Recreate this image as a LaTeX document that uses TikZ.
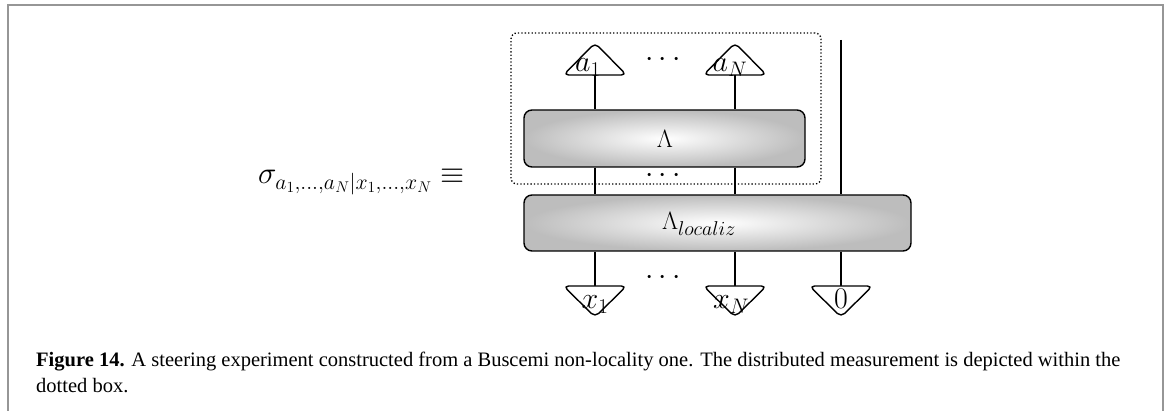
\RequirePackage{fix-cm}
\documentclass[tikz,border=0pt]{standalone}
\usepackage{fontspec}
\newfontfamily\capfont{Liberation Serif}
\DeclareMathSizes{25}{25}{20}{15}
\definecolor{framegray}{RGB}{150,150,150}
\tikzset{
  wire/.style={line width=1.4pt},
  chan/.style={draw, line width=1.4pt, rounded corners=8pt, inner color=white, outer color=black!26},
  tri/.style={draw, fill=white, line width=1.4pt, rounded corners=5pt, line join=round},
  boxlbl/.style={anchor=base, inner sep=0pt, font=\fontsize{25}{29}\selectfont},
  trilbl/.style={anchor=base, inner sep=0pt, font=\fontsize{30}{34}\selectfont},
  dotlbl/.style={inner sep=0pt, font=\fontsize{30}{34}\selectfont},
  captxt/.style={anchor=base west, inner sep=0pt, font=\capfont\fontsize{20.5}{25}\selectfont},
  uptri/.pic={\draw[tri] (-31.5,0) -- (0,-32) -- (31.5,0) -- cycle;},
  downtri/.pic={\draw[tri] (-31.5,0) -- (31.5,0) -- (0,31) -- cycle;}
}
\begin{document}
\begin{tikzpicture}[x=1pt,y=-1pt]
\useasboundingbox (0,0) rectangle (1170,411);
\draw[framegray, line width=2.2pt] (8,411) -- (8,5) -- (1163,5) -- (1163,411);

% dotted box (distributed measurement)
\node[draw, line width=1.3pt, dash pattern=on 1.3pt off 2.1pt, rounded corners=6pt,
      minimum width=310pt, minimum height=151pt, inner sep=0pt] (D) at (666,108.5) {};

% channels
\node[chan, minimum width=281pt, minimum height=57pt, inner sep=0pt] (L) at (664.5,138.5) {};
\node[chan, minimum width=387pt, minimum height=56pt, inner sep=0pt] (LL) at (717.5,223) {};
\node[boxlbl] (Lt) at (665,148) {$\Lambda$};
\node[boxlbl] (LLt) at (699,230) {$\Lambda_{localiz}$};

% wire end coordinates
\coordinate (ta1) at (595,75);
\coordinate (taN) at (735,75);
\coordinate (top0) at (841,40);
\coordinate (tx1) at (595,286);
\coordinate (txN) at (735,286);
\coordinate (t0) at (841,286);

% wires
\draw[wire] (ta1) -- (L.north -| ta1);
\draw[wire] (taN) -- (L.north -| taN);
\draw[wire] (L.south -| ta1) -- (LL.north -| ta1);
\draw[wire] (L.south -| taN) -- (LL.north -| taN);
\draw[wire] (top0) -- (LL.north -| top0);
\draw[wire] (LL.south -| tx1) -- (tx1);
\draw[wire] (LL.south -| txN) -- (txN);
\draw[wire] (LL.south -| t0) -- (t0);

% effects (outputs) and states (inputs)
\pic at (ta1) {uptri};
\pic at (taN) {uptri};
\pic at (tx1) {downtri};
\pic at (txN) {downtri};
\pic at (t0) {downtri};
\node[trilbl] (a1) at (588,72) {$a_1$};
\node[trilbl] (aN) at (730,72) {$a_N$};
\node[trilbl] (x1) at (595,309) {$x_1$};
\node[trilbl] (xN) at (731,309) {$x_N$};
\node[trilbl] (z0) at (841,309) {$0$};

% ellipses
\node[dotlbl] (d1) at (663,60) {$\cdots$};
\node[dotlbl] (d2) at (663,176) {$\cdots$};
\node[dotlbl] (d3) at (663,278) {$\cdots$};

% left-hand side
\node[anchor=base east, inner sep=0pt, font=\fontsize{31}{35}\selectfont] (sig) at (465,184)
  {$\sigma_{a_1,\ldots,a_N|x_1,\ldots,x_N}\equiv$};

% caption
\node[captxt] (cap1) at (36,367) {\textbf{Figure 14.} A steering experiment constructed from a Buscemi non-locality one. The distributed measurement is depicted within the};
\node[captxt] (cap2) at (36,392) {dotted box.};
\end{tikzpicture}
\end{document}
